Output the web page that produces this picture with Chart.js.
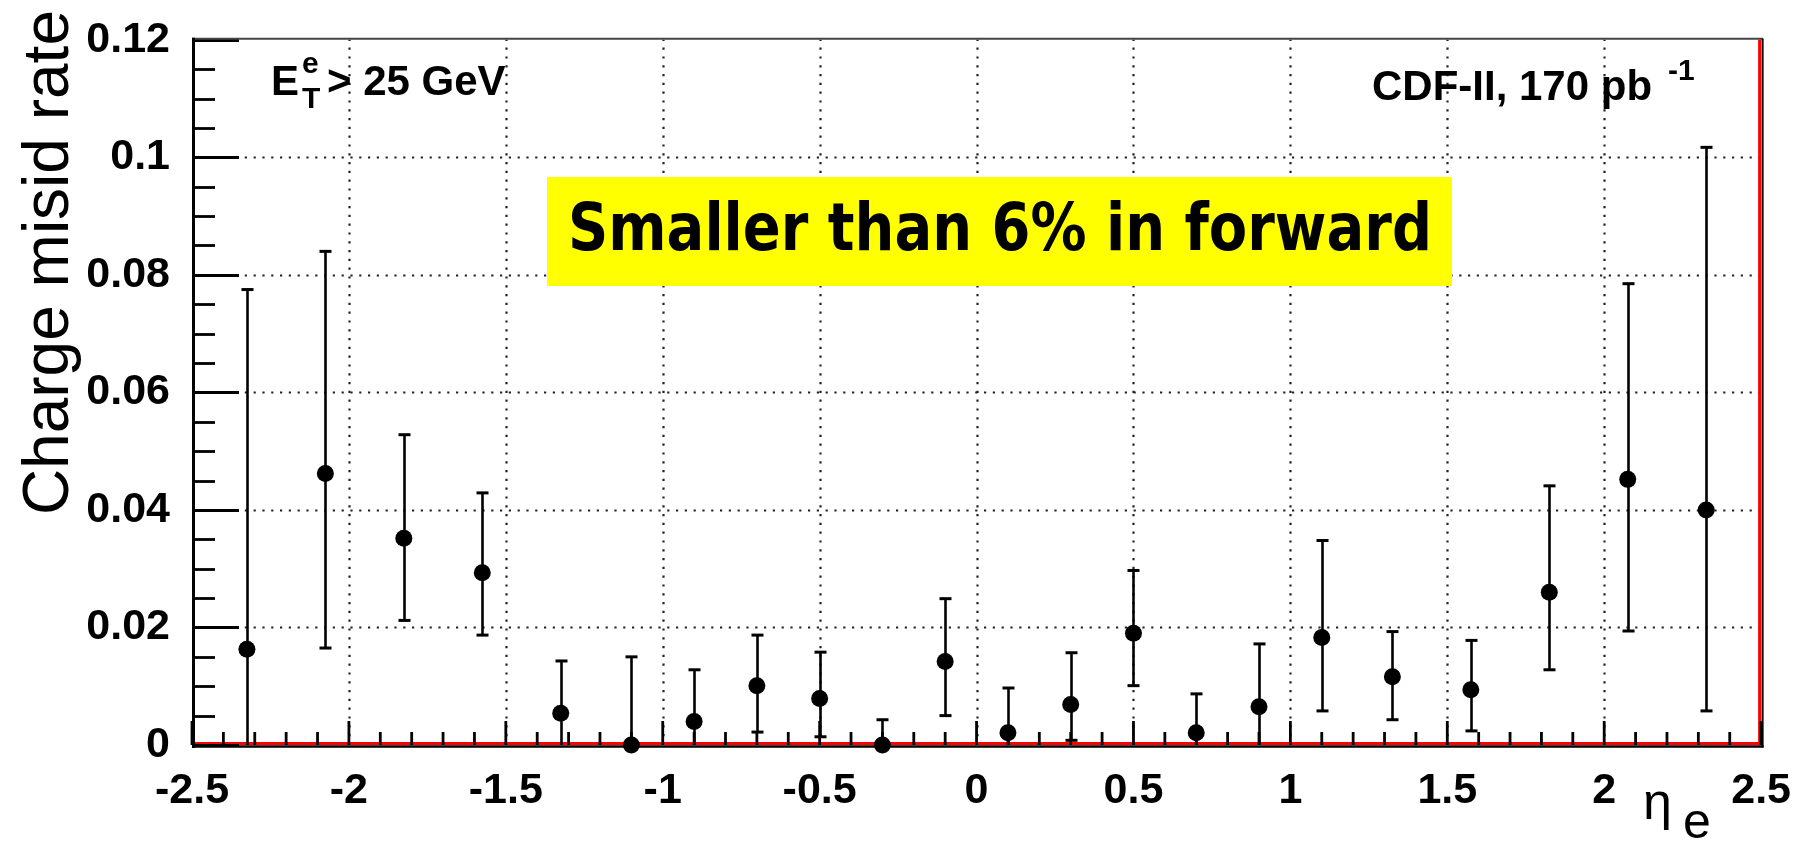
<!DOCTYPE html>
<html>
<head>
<meta charset="utf-8">
<title>Charge misidentification rate vs eta</title>
<script src="https://cdn.jsdelivr.net/npm/chart.js@4.4.1/dist/chart.umd.min.js"></script>
<style>
  html, body { margin: 0; padding: 0; background: #ffffff; }
  #wrap { width: 1803px; height: 841px; position: relative; }
</style>
</head>
<body>
<div id="wrap"><canvas id="c" width="1803" height="841"></canvas></div>
<script>
// Bin centres in electron pseudorapidity
const etaBins = [-2.325, -2.075, -1.825, -1.575, -1.325, -1.1, -0.9, -0.7, -0.5, -0.3, -0.1,
                 0.1, 0.3, 0.5, 0.7, 0.9, 1.1, 1.325, 1.575, 1.825, 2.075, 2.325];
// Measured charge misidentification rate per bin
const misidRate = [0.0163, 0.0462, 0.0352, 0.0293, 0.0054, 0.0, 0.0040, 0.0101, 0.0079, 0.0, 0.0142,
                   0.0021, 0.0069, 0.0190, 0.0021, 0.0065, 0.0183, 0.0116, 0.0094, 0.0260, 0.0452, 0.0400];
// Upper and lower edges of the error bars
const rateUpper = [0.0775, 0.0840, 0.0528, 0.0429, 0.0143, 0.0150, 0.0128, 0.0187, 0.0158, 0.0043, 0.0249,
                   0.0097, 0.0157, 0.0297, 0.0087, 0.0172, 0.0348, 0.0193, 0.0178, 0.0441, 0.0785, 0.1017];
const rateLower = [0.0, 0.0165, 0.0212, 0.0187, 0.0, 0.0, 0.0, 0.0022, 0.0014, 0.0, 0.0050,
                   0.0, 0.0008, 0.0101, 0.0, 0.0, 0.0058, 0.0043, 0.0024, 0.0128, 0.0194, 0.0058];

// Axis ticks and their labels
const xTickValues = [-2.5, -2, -1.5, -1, -0.5, 0, 0.5, 1, 1.5, 2, 2.5];
const xTickLabels = ['-2.5', '-2', '-1.5', '-1', '-0.5', '0', '0.5', '1', '1.5', '2', '2.5'];
const yTickValues = [0, 0.02, 0.04, 0.06, 0.08, 0.1, 0.12];
const yTickLabels = ['0', '0.02', '0.04', '0.06', '0.08', '0.1', '0.12'];
const xMinorStep = 0.1;
const yMinorStep = 0.005;

// Text drawn on the plot
const yTitle = 'Charge misid rate';
const cutLabel = { main: 'E', sup: 'e', sub: 'T', rest: '> 25 GeV' };
const lumiLabel = { main: 'CDF-II, 170 pb', sup: '-1' };
const noteText = 'Smaller than 6% in forward';
const xTitle = { main: '\u03b7', sub: 'e' };

const SANS = "'Liberation Sans', Arial, Helvetica, sans-serif";

function labelFor(values, labels, v) {
  for (let i = 0; i < values.length; i++) {
    if (Math.abs(values[i] - v) < 1e-9) return labels[i];
  }
  return '';
}

// Frame, inner ticks, dotted grid, error bars and annotations
const rootStyle = {
  id: 'rootStyle',
  beforeDatasetsDraw(chart) {
    const { ctx, chartArea: a, scales: { x, y } } = chart;
    ctx.save();

    // dotted grid at major ticks
    ctx.strokeStyle = '#222';
    ctx.lineWidth = 2.2;
    ctx.setLineDash([2.2, 6.6]);
    xTickValues.forEach(v => {
      if (v <= x.min || v >= x.max) return;
      const px = Math.round(x.getPixelForValue(v)) + 0.5;
      ctx.beginPath(); ctx.moveTo(px, a.bottom); ctx.lineTo(px, a.top); ctx.stroke();
    });
    yTickValues.forEach(v => {
      if (v <= y.min || v >= y.max) return;
      const py = Math.round(y.getPixelForValue(v)) + 0.5;
      ctx.beginPath(); ctx.moveTo(a.left, py); ctx.lineTo(a.right, py); ctx.stroke();
    });
    ctx.setLineDash([]);

    // highlighted note box
    const bx = 547, by = 177, bw = 905, bh = 109;
    ctx.fillStyle = '#ffff00';
    ctx.fillRect(bx, by, bw, bh);
    ctx.fillStyle = '#000';
    ctx.font = "bold 66px 'DejaVu Sans', 'Liberation Sans', sans-serif";
    ctx.textBaseline = 'alphabetic';
    ctx.textAlign = 'left';
    const target = 864;
    const w = ctx.measureText(noteText).width;
    ctx.save();
    ctx.translate(568, 250);
    ctx.scale(target / w, 1);
    ctx.fillText(noteText, 0, 0);
    ctx.restore();

    // red reference lines along y = 0 and x = 2.5
    ctx.strokeStyle = '#ff0000';
    ctx.lineWidth = 3;
    const y0 = y.getPixelForValue(0);
    ctx.beginPath(); ctx.moveTo(a.left, y0 - 1.5); ctx.lineTo(a.right, y0 - 1.5); ctx.stroke();
    ctx.beginPath(); ctx.moveTo(a.right - 1.5, a.top); ctx.lineTo(a.right - 1.5, y0); ctx.stroke();

    // inner tick marks
    ctx.strokeStyle = '#000';
    ctx.lineWidth = 2.8;
    const nx = Math.round((x.max - x.min) / xMinorStep);
    for (let i = 0; i <= nx; i++) {
      const v = x.min + i * xMinorStep;
      const major = xTickValues.some(t => Math.abs(t - v) < 1e-6);
      const px = x.getPixelForValue(v);
      const len = major ? 24 : 13;
      ctx.beginPath(); ctx.moveTo(px, a.bottom); ctx.lineTo(px, a.bottom - len); ctx.stroke();
    }
    const ny = Math.round((y.max - y.min) / yMinorStep);
    for (let i = 0; i <= ny; i++) {
      const v = y.min + i * yMinorStep;
      const major = yTickValues.some(t => Math.abs(t - v) < 1e-6);
      const py = Math.round(y.getPixelForValue(v)) + 0.5;
      const len = major ? 47 : 23;
      ctx.beginPath(); ctx.moveTo(a.left, py); ctx.lineTo(a.left + len, py); ctx.stroke();
    }

    // error bars with end caps
    const cap = 6;
    etaBins.forEach((eta, i) => {
      const px = Math.round(x.getPixelForValue(eta)) + 0.5;
      const pHi = y.getPixelForValue(rateUpper[i]);
      const pLo = y.getPixelForValue(rateLower[i]);
      ctx.lineWidth = 2.6;
      ctx.beginPath(); ctx.moveTo(px, pLo); ctx.lineTo(px, pHi); ctx.stroke();
      ctx.lineWidth = 3;
      ctx.beginPath(); ctx.moveTo(px - cap, pHi); ctx.lineTo(px + cap, pHi); ctx.stroke();
      if (rateLower[i] > 0) {
        ctx.beginPath(); ctx.moveTo(px - cap, pLo); ctx.lineTo(px + cap, pLo); ctx.stroke();
      }
    });
    ctx.restore();
  },
  afterDatasetsDraw(chart) {
    const { ctx, chartArea: a } = chart;
    ctx.save();
    // frame
    ctx.strokeStyle = '#444';
    ctx.lineWidth = 2;
    ctx.beginPath(); ctx.moveTo(a.left, a.top - 1); ctx.lineTo(a.right + 2, a.top - 1); ctx.stroke();
    ctx.strokeStyle = '#000';
    ctx.beginPath(); ctx.moveTo(a.right + 1.5, a.top - 1); ctx.lineTo(a.right + 1.5, a.bottom + 2.5); ctx.stroke();
    ctx.lineWidth = 3;
    ctx.beginPath(); ctx.moveTo(a.left + 1.5, a.top - 2); ctx.lineTo(a.left + 1.5, a.bottom + 3); ctx.stroke();
    ctx.lineWidth = 2.5;
    ctx.beginPath(); ctx.moveTo(a.left, a.bottom + 1.5); ctx.lineTo(a.right + 2.5, a.bottom + 1.5); ctx.stroke();

    ctx.fillStyle = '#000';
    ctx.textBaseline = 'alphabetic';
    ctx.textAlign = 'left';

    // transverse energy cut
    ctx.font = 'bold 42px ' + SANS;
    ctx.fillText(cutLabel.main, 271, 95);
    ctx.font = 'bold 30px ' + SANS;
    ctx.fillText(cutLabel.sup, 302, 73);
    ctx.fillText(cutLabel.sub, 302, 108);
    ctx.font = 'bold 42px ' + SANS;
    ctx.fillText(cutLabel.rest, 327, 95);

    // luminosity
    ctx.font = 'bold 42px ' + SANS;
    ctx.fillText(lumiLabel.main, 1372, 100);
    ctx.font = 'bold 30px ' + SANS;
    ctx.fillText(lumiLabel.sup, 1668, 80);

    // y axis title, right-aligned to the top of the axis
    ctx.save();
    ctx.font = '64px ' + SANS;
    ctx.translate(68, 10);
    ctx.rotate(-Math.PI / 2);
    ctx.textAlign = 'right';
    ctx.fillText(yTitle, 0, 0);
    ctx.restore();

    // x axis title
    ctx.font = '52px ' + SANS;
    ctx.fillText(xTitle.main, 1643, 819);
    ctx.font = '50px ' + SANS;
    ctx.fillText(xTitle.sub, 1683, 838);
    ctx.restore();
  }
};

const tickFont = { family: SANS, weight: 'bold', size: 43 };

new Chart(document.getElementById('c'), {
  type: 'scatter',
  data: {
    datasets: [{
      data: etaBins.map((eta, i) => ({ x: eta, y: misidRate[i] })),
      pointRadius: 8.5,
      pointHoverRadius: 8.5,
      pointBackgroundColor: '#000',
      pointBorderColor: '#000',
      pointBorderWidth: 0,
      showLine: false
    }]
  },
  options: {
    responsive: false,
    animation: false,
    events: [],
    clip: false,
    layout: { padding: { top: 26, right: 39, left: 0, bottom: 0 } },
    plugins: { legend: { display: false }, tooltip: { enabled: false } },
    scales: {
      x: {
        type: 'linear',
        min: -2.5,
        max: 2.5,
        afterBuildTicks: s => { s.ticks = xTickValues.map(v => ({ value: v })); },
        afterFit: s => { s.height = 96; },
        ticks: {
          autoSkip: false,
          maxRotation: 0,
          padding: 12,
          color: '#000',
          font: tickFont,
          callback: v => labelFor(xTickValues, xTickLabels, v)
        },
        grid: { display: false },
        border: { display: false }
      },
      y: {
        type: 'linear',
        min: 0,
        max: 0.12,
        afterBuildTicks: s => { s.ticks = yTickValues.map(v => ({ value: v })); },
        afterFit: s => { s.width = 192; },
        ticks: {
          autoSkip: false,
          padding: 14,
          color: '#000',
          font: tickFont,
          callback: v => labelFor(yTickValues, yTickLabels, v)
        },
        grid: { display: false },
        border: { display: false }
      }
    }
  },
  plugins: [rootStyle]
});
</script>
</body>
</html>
